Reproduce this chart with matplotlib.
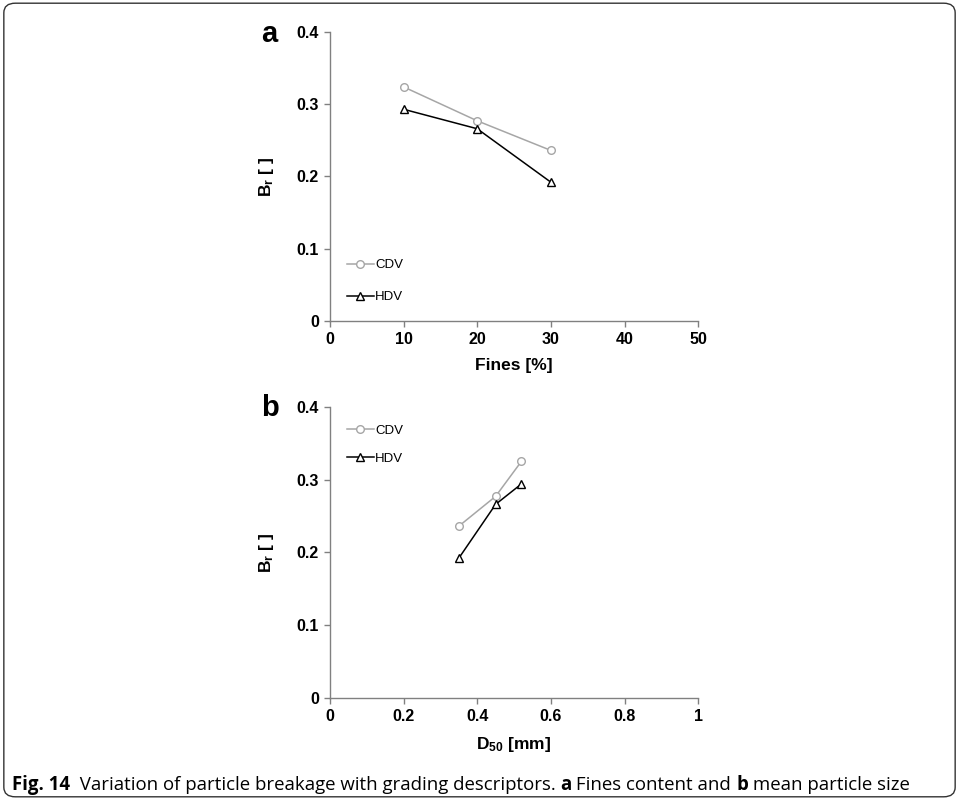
import matplotlib.pyplot as plt
from matplotlib.patches import FancyBboxPatch

# panel a: fines content
fines = [10, 20, 30]
cdv_fines = [0.324, 0.277, 0.236]
hdv_fines = [0.293, 0.266, 0.192]

# panel b: mean particle size
d50 = [0.35, 0.45, 0.52]
cdv_d50 = [0.236, 0.277, 0.325]
hdv_d50 = [0.192, 0.266, 0.294]

plt.rcParams['font.family'] = ['Liberation Sans', 'DejaVu Sans']
plt.rcParams['mathtext.fontset'] = 'custom'
plt.rcParams['mathtext.rm'] = 'Liberation Sans:bold'
plt.rcParams['mathtext.it'] = 'Liberation Sans:bold'
plt.rcParams['mathtext.bf'] = 'Liberation Sans:bold'

fig = plt.figure(figsize=(9.59, 8.0), dpi=100)

# rounded frame around the figure
frame = FancyBboxPatch((0.004, 0.004), 0.992, 0.992, boxstyle='round,pad=0,rounding_size=0.012',
                       transform=fig.transFigure, facecolor='none', edgecolor='#333333', lw=1.0)
fig.patches.append(frame)

ax1 = fig.add_axes([0.344, 0.599, 0.384, 0.361])
ax2 = fig.add_axes([0.344, 0.1275, 0.384, 0.364])


def style(ax):
    for s in ['top', 'right']:
        ax.spines[s].set_visible(False)
    for s in ['left', 'bottom']:
        ax.spines[s].set_color('#808080')
        ax.spines[s].set_linewidth(1.0)
    ax.tick_params(direction='out', length=4, width=1, color='#808080', labelsize=11.5, pad=4)
    ax.set_ylim(0, 0.4)
    ax.set_yticks([0, 0.1, 0.2, 0.3, 0.4])
    ax.set_yticklabels(['0', '0.1', '0.2', '0.3', '0.4'], fontweight='bold')
    ax.set_ylabel(r'B$_\mathrm{r}$ [ ]', fontsize=12.5, fontweight='bold', labelpad=15)


ax1.plot(fines, cdv_fines, '-o', color='#a6a6a6', mfc='white', mec='#a6a6a6', ms=5.5, lw=1.1, label='CDV')
ax1.plot(fines, hdv_fines, '-^', color='black', mfc='white', mec='black', ms=5.5, lw=1.1, label='HDV')
ax1.set_xlim(0, 50)
ax1.set_xticks([0, 10, 20, 30, 40, 50])
ax1.set_xticklabels(['0', '10', '20', '30', '40', '50'], fontweight='bold')
style(ax1)
ax1.set_xlabel('Fines [%]', fontsize=12.5, fontweight='bold', labelpad=8)
ax1.legend(loc='lower left', bbox_to_anchor=(0.015, 0.02), frameon=False, fontsize=9.5,
           handlelength=2.0, handletextpad=0.1, labelspacing=1.5)
fig.text(0.272, 0.957, 'a', fontsize=21, fontweight='bold', va='center')

ax2.plot(d50, cdv_d50, '-o', color='#a6a6a6', mfc='white', mec='#a6a6a6', ms=5.5, lw=1.1, label='CDV')
ax2.plot(d50, hdv_d50, '-^', color='black', mfc='white', mec='black', ms=5.5, lw=1.1, label='HDV')
ax2.set_xlim(0, 1)
ax2.set_xticks([0, 0.2, 0.4, 0.6, 0.8, 1])
ax2.set_xticklabels(['0', '0.2', '0.4', '0.6', '0.8', '1'], fontweight='bold')
style(ax2)
ax2.set_xlabel(r'D$_\mathrm{50}$ [mm]', fontsize=12.5, fontweight='bold', labelpad=8)
ax2.legend(loc='upper left', bbox_to_anchor=(0.015, 0.98), frameon=False, fontsize=9.5,
           handlelength=2.0, handletextpad=0.1, labelspacing=1.2)
fig.text(0.272, 0.490, 'b', fontsize=21, fontweight='bold', va='center')

# caption with mixed bold / regular pieces
pieces = [('Fig. 14', 'bold'), ('  Variation of particle breakage with grading descriptors. ', 'normal'),
          ('a', 'bold'), (' Fines content and ', 'normal'), ('b', 'bold'), (' mean particle size', 'normal')]
fig.canvas.draw()
r = fig.canvas.get_renderer()
x = 0.012
for txt, w in pieces:
    t = fig.text(x, 0.012, txt, fontsize=13.4, fontweight=w, family=['Open Sans', 'DejaVu Sans'],
                 va='baseline', ha='left')
    bb = t.get_window_extent(renderer=r)
    x += bb.width / fig.bbox.width

fig.savefig('out.png', dpi=100)
